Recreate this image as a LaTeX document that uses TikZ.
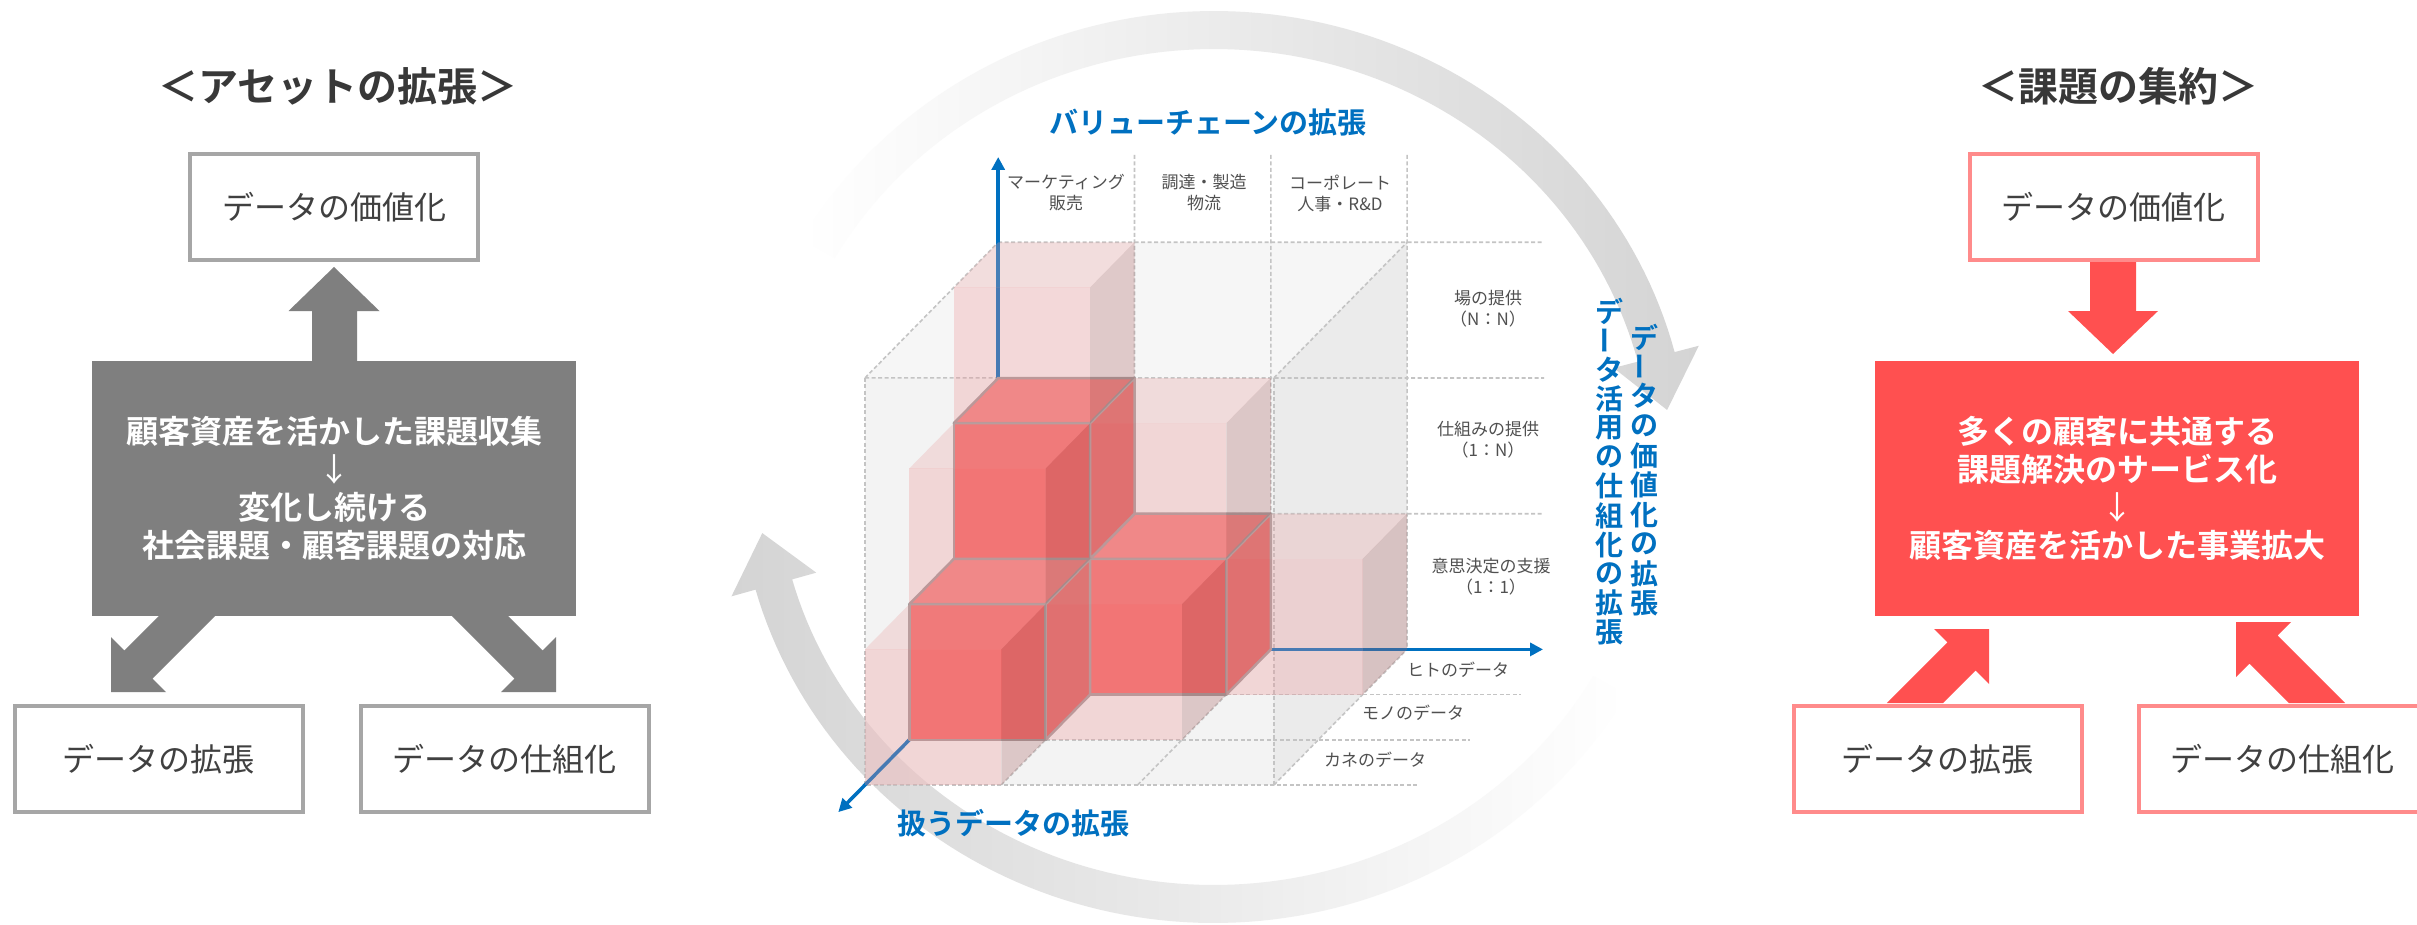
\documentclass[tikz,border=0pt]{standalone}
\usepackage{fontspec}
\setmainfont{Noto Sans CJK JP}[BoldFont={Noto Sans CJK JP Bold}]
\usetikzlibrary{arrows.meta}
\definecolor{arrowgray}{HTML}{7F7F7F}
\definecolor{bordergray}{HTML}{A6A6A6}
\definecolor{txtdark}{HTML}{404040}
\definecolor{titletxt}{HTML}{383838}
\definecolor{redmain}{HTML}{FF5050}
\definecolor{pinkborder}{HTML}{FF8B8B}
\definecolor{bluemain}{HTML}{0070C0}
\definecolor{dashgray}{HTML}{C4C4C4}
\definecolor{lbltxt}{HTML}{505050}
\definecolor{ringgray}{HTML}{D4D4D4}
\definecolor{boxfront}{RGB}{233,233,233}
\definecolor{boxtop}{RGB}{239,239,239}
\definecolor{boxright}{RGB}{217,217,217}
\definecolor{sfront}{RGB}{244,104,104}
\definecolor{stopc}{RGB}{241,131,130}
\definecolor{sright}{RGB}{218,97,96}
\definecolor{pfront}{RGB}{238,148,150}
\definecolor{ptop}{RGB}{234,164,164}
\definecolor{pright}{RGB}{170,100,100}
\definecolor{edgegray}{RGB}{165,155,155}
\newcommand\vbar{\rotatebox[origin=c]{90}{ー}}
\newcommand\cpt[3]{({865+136.3*(#1)+44.4*(#3)},{785-135.7*(#2)-45.2*(#3)})}
\newcommand\cubesolid[3]{%
 \filldraw[sfacefront] \cpt{#1}{#2}{#3} -- \cpt{#1+1}{#2}{#3} -- \cpt{#1+1}{#2+1}{#3} -- \cpt{#1}{#2+1}{#3} -- cycle;
 \filldraw[sfacetop] \cpt{#1}{#2+1}{#3} -- \cpt{#1+1}{#2+1}{#3} -- \cpt{#1+1}{#2+1}{#3+1} -- \cpt{#1}{#2+1}{#3+1} -- cycle;
 \filldraw[sfaceright] \cpt{#1+1}{#2}{#3} -- \cpt{#1+1}{#2}{#3+1} -- \cpt{#1+1}{#2+1}{#3+1} -- \cpt{#1+1}{#2+1}{#3} -- cycle;}
\newcommand\cubepink[3]{%
 \fill[pfacefront] \cpt{#1}{#2}{#3} -- \cpt{#1+1}{#2}{#3} -- \cpt{#1+1}{#2+1}{#3} -- \cpt{#1}{#2+1}{#3} -- cycle;
 \fill[pfacetop] \cpt{#1}{#2+1}{#3} -- \cpt{#1+1}{#2+1}{#3} -- \cpt{#1+1}{#2+1}{#3+1} -- \cpt{#1}{#2+1}{#3+1} -- cycle;
 \fill[pfaceright] \cpt{#1+1}{#2}{#3} -- \cpt{#1+1}{#2}{#3+1} -- \cpt{#1+1}{#2+1}{#3+1} -- \cpt{#1+1}{#2+1}{#3} -- cycle;}
\tikzset{
 wbox/.style={draw=bordergray, line width=4, fill=white, minimum width=288, minimum height=106, inner sep=0, font=\fontsize{32}{38}\selectfont, text=txtdark},
 pbox/.style={wbox, draw=pinkborder},
 bigbox/.style={minimum width=484, minimum height=255, inner sep=0, align=center, text=white, font=\bfseries\fontsize{32}{38}\selectfont},
 paneltitle/.style={font=\bfseries\fontsize{40}{48}\selectfont, text=titletxt, inner sep=0},
 sfacefront/.style={fill=sfront, draw=edgegray, line width=2.5, line join=round},
 sfacetop/.style={fill=stopc, draw=edgegray, line width=2.5, line join=round},
 sfaceright/.style={fill=sright, draw=edgegray, line width=2.5, line join=round},
 pfacefront/.style={fill=pfront, fill opacity=0.3},
 pfacetop/.style={fill=ptop, fill opacity=0.3},
 pfaceright/.style={fill=pright, fill opacity=0.3},
 boxface/.style={fill opacity=0.5},
 dashln/.style={draw=dashgray, line width=1.6, dash pattern=on 4pt off 2.5pt},
 blueaxis/.style={draw=bluemain, line width=3.5, -{Triangle[width=13pt,length=13pt]}},
 smalllbl/.style={align=center, font=\fontsize{17}{21}\selectfont, text=lbltxt, inner sep=0},
 bluettl/.style={font=\bfseries\fontsize{29}{34}\selectfont, text=bluemain, inner sep=0},
 bluevert/.style={font=\bfseries\fontsize{28}{30}\selectfont, text=bluemain, inner sep=0},
}
\begin{document}
\begin{tikzpicture}[x=1pt,y=-1pt]
\useasboundingbox (0,0) rectangle (2417,925);
\fill[white] (0,0) rectangle (2417,925);

% ---------------- ring arrows ----------------
\shade[left color=white, right color=ringgray]
  plot[domain=-150:-14.6, samples=90, variable=\t] ({1214+476*cos(\t)},{467+456*sin(\t)})
  -- ({1214+501*cos(-14.6)},{467+481*sin(-14.6)})
  -- ({1214+457*cos(-7.5)},{467+437*sin(-7.5)})
  -- ({1214+413*cos(-14.6)},{467+393*sin(-14.6)})
  -- plot[domain=-14.6:-150, samples=90, variable=\t] ({1214+438*cos(\t)},{467+418*sin(\t)})
  -- cycle;
\shade[left color=ringgray, right color=white]
  plot[domain=30:164.4, samples=90, variable=\t] ({1214+476*cos(\t)},{467+456*sin(\t)})
  -- ({1214+501*cos(164.4)},{467+481*sin(164.4)})
  -- ({1214+457*cos(171.3)},{467+437*sin(171.3)})
  -- ({1214+413*cos(164.4)},{467+393*sin(164.4)})
  -- plot[domain=164.4:30, samples=90, variable=\t] ({1214+438*cos(\t)},{467+418*sin(\t)})
  -- cycle;

% ---------------- cube frame ----------------
\fill[boxface, fill=boxfront] \cpt{0}{0}{0} -- \cpt{3}{0}{0} -- \cpt{3}{3}{0} -- \cpt{0}{3}{0} -- cycle;
\fill[boxface, fill=boxtop] \cpt{0}{3}{0} -- \cpt{3}{3}{0} -- \cpt{3}{3}{3} -- \cpt{0}{3}{3} -- cycle;
\fill[boxface, fill=boxright] \cpt{3}{0}{0} -- \cpt{3}{0}{3} -- \cpt{3}{3}{3} -- \cpt{3}{3}{0} -- cycle;

\draw[dashln] (1134.5,155) -- \cpt{1}{0}{3};
\draw[dashln] (1270.8,155) -- \cpt{2}{0}{3};
\draw[dashln] (1407.1,155) -- \cpt{3}{0}{3};
\draw[dashln] \cpt{0}{3}{3} -- (1544,242.3);
\draw[dashln] \cpt{0}{3}{0} -- (1544,378);
\draw[dashln] \cpt{0}{1}{3} -- (1544,513.7);
\draw[dashln] \cpt{0}{3}{0} -- \cpt{0}{0}{0} -- (1417,785);
\draw[dashln] \cpt{3}{3}{0} -- \cpt{3}{0}{0};
\draw[dashln] \cpt{0}{3}{0} -- \cpt{0}{3}{3};
\draw[dashln] \cpt{3}{3}{0} -- \cpt{3}{3}{3};
\draw[dashln] \cpt{3}{0}{0} -- \cpt{3}{0}{3};
\draw[dashln] \cpt{0}{0}{1} -- (1470,739.8);
\draw[dashln] \cpt{0}{0}{2} -- (1521,694.6);
\draw[dashln] \cpt{1}{0}{0} -- \cpt{1}{0}{3};
\draw[dashln] \cpt{2}{0}{0} -- \cpt{2}{0}{3};

% axes
\coordinate (ax0) at (998.2,649.4);
\coordinate (axup) at (998.2,157);
\coordinate (axright) at (1543,649.4);
\coordinate (axdepth) at (838.3,812.1);
\draw[blueaxis] (ax0) -- (axup);
\draw[blueaxis] (ax0) -- (axright);
\draw[blueaxis] (ax0) -- (axdepth);

% cubes, back to front
\cubesolid{0}{0}{2}
\cubesolid{1}{0}{2}
\cubepink{2}{0}{2}
\cubesolid{0}{1}{2}
\cubepink{1}{1}{2}
\cubepink{0}{2}{2}
\cubesolid{0}{0}{1}
\cubepink{1}{0}{1}
\cubepink{0}{1}{1}
\cubepink{0}{0}{0}

% labels
\node[smalllbl] (c1) at (1066,193) {マーケティング\\販売};
\node[smalllbl] (c2) at (1204,193) {調達・製造\\物流};
\node[smalllbl] (c3) at (1340,193) {コーポレート\\人事・R\&D};
\node[smalllbl] (r1) at (1488,308.5) {場の提供\\（N：N）};
\node[smalllbl] (r2) at (1488,440) {仕組みの提供\\（1：N）};
\node[smalllbl] (r3) at (1491,577) {意思決定の支援\\（1：1）};
\node[smalllbl] (f1) at (1458,670) {ヒトのデータ};
\node[smalllbl] (f2) at (1413,713) {モノのデータ};
\node[smalllbl] (f3) at (1375,760) {カネのデータ};

\node[bluettl] (vct) at (1208,123) {バリューチェーンの拡張};
\node[bluettl] (dtt) at (1013,823) {扱うデータの拡張};
\foreach \ch [count=\n from 0] in {デ,\vbar,タ,活,用,の,仕,組,化,の,拡,張}
  \node[bluevert] (va\n) at (1609,{311+29.2*\n}) {\ch};
\foreach \ch [count=\n from 0] in {デ,\vbar,タ,の,価,値,化,の,拡,張}
  \node[bluevert] (vb\n) at (1644,{337+29.6*\n}) {\ch};

% ---------------- left panel ----------------
\node[paneltitle] (ltitle) at (338,86) {＜アセットの拡張＞};
\fill[arrowgray] (312,362) -- (312,311) -- (288.5,311) -- (334,267) -- (379.5,311) -- (357,311) -- (357,362) -- cycle;
\fill[arrowgray] (158.8,616) -- (124.4,650.4) -- (111,637) -- (111,692) -- (166,692) -- (152.6,678.6) -- (215.2,616) -- cycle;
\fill[arrowgray] (508.2,616) -- (542.6,650.4) -- (556,637) -- (556,692) -- (501,692) -- (514.4,678.6) -- (451.8,616) -- cycle;
\node[wbox] (lval) at (334,207) {データの価値化};
\node[bigbox, fill=arrowgray] (lmain) at (334,488.5) {顧客資産を活かした課題収集\\{\mdseries ↓}\\変化し続ける\\社会課題・顧客課題の対応};
\node[wbox] (lext) at (158.5,759) {データの拡張};
\node[wbox] (lsys) at (504.5,759) {データの仕組化};

% ---------------- right panel ----------------
\node[paneltitle] (rtitle) at (2118.5,86) {＜課題の集約＞};
\fill[redmain] (2090,261) -- (2090,311) -- (2068,311) -- (2113,354) -- (2158,311) -- (2136,311) -- (2136,261) -- cycle;
\fill[redmain] (1886.8,703) -- (1947.4,642.4) -- (1934,629) -- (1989,629) -- (1989,684) -- (1975.6,670.6) -- (1943.2,703) -- cycle;
\fill[redmain] (2345.2,703) -- (2277.6,635.4) -- (2291,622) -- (2236,622) -- (2236,677) -- (2249.4,663.6) -- (2288.8,703) -- cycle;
\node[pbox] (rval) at (2113.5,207) {データの価値化};
\node[bigbox, fill=redmain] (rmain) at (2117,488.5) {多くの顧客に共通する\\課題解決のサービス化\\{\mdseries ↓}\\顧客資産を活かした事業拡大};
\node[pbox] (rext) at (1937.5,759) {データの拡張};
\node[pbox] (rsys) at (2282.5,759) {データの仕組化};
\end{tikzpicture}
\end{document}
